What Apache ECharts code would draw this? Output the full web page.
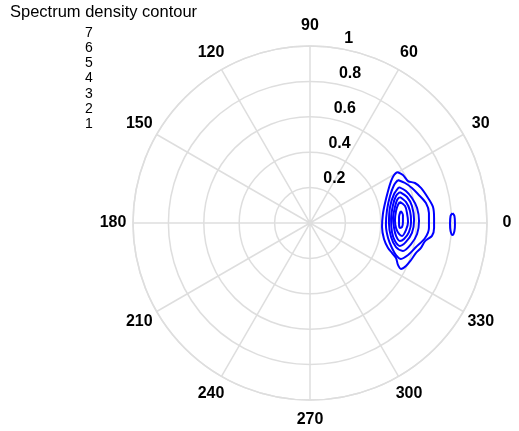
<!DOCTYPE html>
<html>
<head>
<meta charset="utf-8">
<script src="https://cdn.jsdelivr.net/npm/echarts@6/dist/echarts.min.js"></script>
<style>
  html, body { margin: 0; padding: 0; background: #fff; }
  #chart { width: 519px; height: 431px; }
</style>
</head>
<body>
<div id="chart"></div>
<script>
const titleText = "Spectrum density contour";
const levels = ["1", "2", "3", "4", "5", "6", "7"];

// contour paths in the polar plane, [x, y] = [r*cos(theta), r*sin(theta)]
const level1 = [[0.492,0.288],[0.525,0.271],[0.554,0.237],[0.593,0.226],[0.627,0.198],[0.667,0.141],[0.695,0.090],[0.701,0.028],[0.701,-0.028],[0.689,-0.073],[0.650,-0.102],[0.627,-0.141],[0.599,-0.169],[0.571,-0.209],[0.542,-0.243],[0.514,-0.260],[0.497,-0.237],[0.486,-0.198],[0.463,-0.169],[0.441,-0.141],[0.418,-0.090],[0.407,-0.023],[0.412,0.051],[0.424,0.113],[0.441,0.181],[0.458,0.237],[0.475,0.271]];
const level2 = [[0.497,0.243],[0.537,0.226],[0.576,0.198],[0.610,0.164],[0.655,0.113],[0.672,0.056],[0.672,-0.028],[0.650,-0.085],[0.599,-0.136],[0.554,-0.181],[0.514,-0.203],[0.486,-0.181],[0.463,-0.141],[0.441,-0.085],[0.429,-0.011],[0.435,0.073],[0.452,0.153],[0.475,0.215]];
const level3 = [[0.503,0.203],[0.542,0.181],[0.576,0.141],[0.605,0.085],[0.616,0.011],[0.605,-0.062],[0.571,-0.119],[0.525,-0.158],[0.486,-0.136],[0.458,-0.079],[0.446,0.000],[0.452,0.090],[0.475,0.164]];
const level4 = [[0.508,0.175],[0.548,0.147],[0.576,0.096],[0.588,0.017],[0.576,-0.056],[0.542,-0.107],[0.508,-0.130],[0.480,-0.102],[0.463,-0.051],[0.458,0.023],[0.469,0.102],[0.486,0.153]];
const level5 = [[0.508,0.147],[0.542,0.119],[0.565,0.068],[0.571,0.006],[0.559,-0.051],[0.531,-0.090],[0.508,-0.102],[0.486,-0.073],[0.475,-0.028],[0.469,0.028],[0.480,0.090],[0.492,0.130]];
const level6 = [[0.508,0.119],[0.537,0.096],[0.548,0.056],[0.554,0.006],[0.542,-0.040],[0.520,-0.073],[0.503,-0.062],[0.486,-0.028],[0.480,0.017],[0.486,0.068],[0.497,0.102]];
const level7 = [[0.514,0.068],[0.525,0.045],[0.525,0.006],[0.520,-0.023],[0.508,-0.028],[0.503,-0.006],[0.503,0.034],[0.508,0.056]];
// small island near r = 0.8
const island = [[0.805,0.056],[0.816,0.040],[0.819,-0.006],[0.816,-0.045],[0.805,-0.068],[0.794,-0.045],[0.791,-0.006],[0.794,0.040]];

const paths = [
  { name: "1", data: level1 },
  { name: "2", data: level2 },
  { name: "3", data: level3 },
  { name: "4", data: level4 },
  { name: "5", data: level5 },
  { name: "6", data: level6 },
  { name: "7", data: level7 },
  { name: "2", data: island },
];

const gridColor = "#dedede";
const font = "Liberation Sans, Arial, Helvetica, sans-serif";
const cx = 310, cy = 223, R = 177;

const chart = echarts.init(document.getElementById("chart"));

const option = {
  backgroundColor: "#fff",
  animation: false,
  title: [
    {
      text: titleText,
      left: 10,
      top: 4,
      padding: 0,
      textStyle: { fontFamily: font, fontSize: 16.5, fontWeight: "normal", color: "#000" },
    },
    {
      text: levels.slice().reverse().join("\n"),
      left: 85,
      top: 25,
      padding: 0,
      textStyle: { fontFamily: font, fontSize: 14, fontWeight: "normal", color: "#000", lineHeight: 15.3 },
    },
  ],
  polar: [
    { center: [cx, cy], radius: R },
    { center: [cx, cy], radius: R },
  ],
  angleAxis: [
    {
      polarIndex: 0,
      type: "value",
      min: 0,
      max: 360,
      interval: 30,
      startAngle: 0,
      clockwise: false,
      axisLine: { lineStyle: { color: gridColor, width: 1.5 } },
      axisTick: { show: false },
      splitLine: { lineStyle: { color: gridColor, width: 1.5 } },
      axisLabel: {
        margin: 19,
        // tiny box so each label is centred on its anchor point
        formatter: (v) => "{a|" + v + "}",
        rich: {
          a: {
            width: 2,
            height: 2,
            lineHeight: 2,
            align: "center",
            verticalAlign: "middle",
            color: "#000",
            fontFamily: font,
            fontSize: 16,
            fontWeight: "bold",
          },
        },
      },
    },
    {
      polarIndex: 1,
      type: "value",
      min: 0,
      max: 360,
      startAngle: 81.5,
      clockwise: false,
      show: false,
    },
  ],
  radiusAxis: [
    {
      polarIndex: 0,
      type: "value",
      min: 0,
      max: 1,
      interval: 0.2,
      axisLine: { show: false },
      axisTick: { show: false },
      axisLabel: { show: false },
      splitLine: { lineStyle: { color: gridColor, width: 1.5 } },
    },
    {
      polarIndex: 1,
      type: "value",
      min: 0,
      max: 1,
      interval: 0.2,
      axisLine: { show: false },
      axisTick: { show: false },
      splitLine: { show: false },
      axisLabel: {
        showMinLabel: false,
        margin: 0,
        align: "left",
        verticalAlign: "bottom",
        padding: [0, 0, 1, 8],
        color: "#000",
        fontFamily: font,
        fontSize: 16,
        fontWeight: "bold",
      },
    },
  ],
  grid: { left: cx - R, top: cy - R, width: 2 * R, height: 2 * R },
  xAxis: { type: "value", min: -1, max: 1, show: false },
  yAxis: { type: "value", min: -1, max: 1, show: false },
  series: paths.map((p) => ({
    name: p.name,
    type: "line",
    data: p.data.concat([p.data[0]]),
    smooth: 0.3,
    symbol: "none",
    z: 5,
    lineStyle: { color: "#0000ff", width: 2 },
  })),
};

chart.setOption(option);
</script>
</body>
</html>
